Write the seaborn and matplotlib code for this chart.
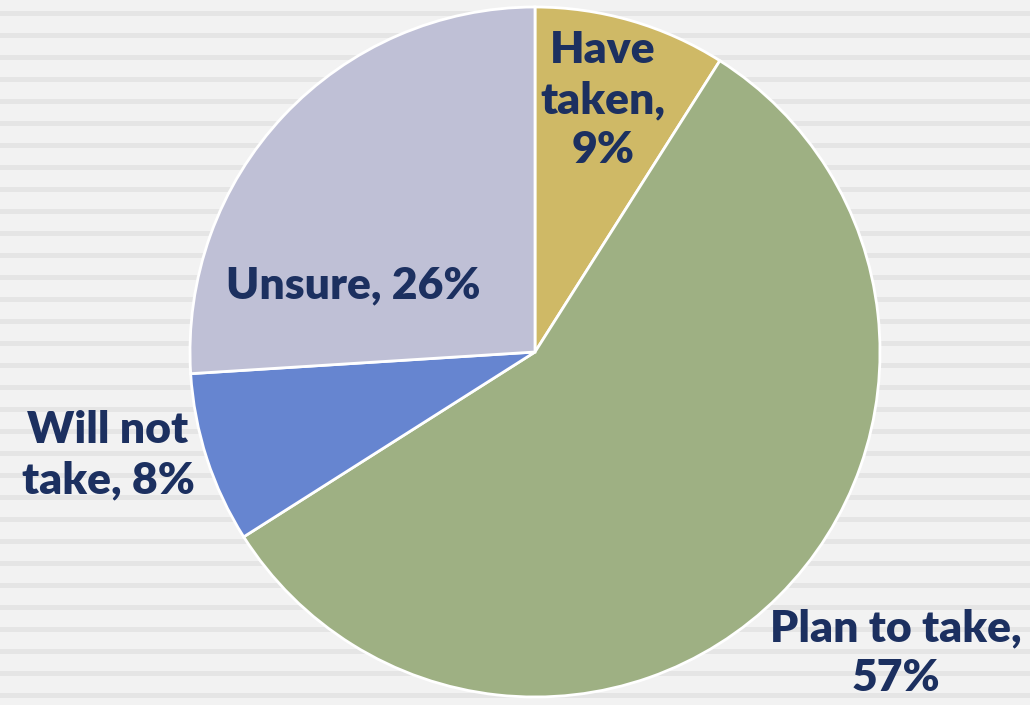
import matplotlib
matplotlib.use("Agg")
import matplotlib.pyplot as plt
import seaborn as sns

categories = ["Have taken", "Plan to take", "Will not take", "Unsure"]
values = [9, 57, 8, 26]
label_texts = ["Have\ntaken,\n9%", "Plan to take,\n57%", "Will not\ntake, 8%", "Unsure, 26%"]
colors = ["#cfb966", "#9eb083", "#6685d0", "#bfc0d6"]

sns.set_theme(style="white")
plt.rcParams['font.family'] = ['Lato', 'DejaVu Sans']

W, H = 1030, 705
fig = plt.figure(figsize=(W / 100, H / 100), dpi=100)
fig.patch.set_facecolor("#f2f2f2")
ax = fig.add_axes([0, 0, 1, 1])
ax.set_facecolor("#f2f2f2")

# background stripes
y = 11
while y < H:
    ax.axhspan(H - y - 5, H - y, color="#e5e5e5", lw=0, zorder=0)
    y += 22

wedges, _ = ax.pie(values, colors=colors, startangle=90, counterclock=False,
                   center=(535, 353), radius=345, frame=True,
                   wedgeprops=dict(edgecolor="white", linewidth=2))
ax.set_xlim(0, W)
ax.set_ylim(0, H)
ax.set_aspect("equal")
ax.axis("off")

label_pos = [(603, 605), (896, 52), (108, 250), (353, 420)]
for txt, (x, yy) in zip(label_texts, label_pos):
    ax.text(x, yy, txt, ha="center", va="center", fontsize=32, fontweight="heavy",
            color="#1c3060", linespacing=1.3, zorder=5)

fig.savefig("out.png", dpi=100, facecolor=fig.get_facecolor())
